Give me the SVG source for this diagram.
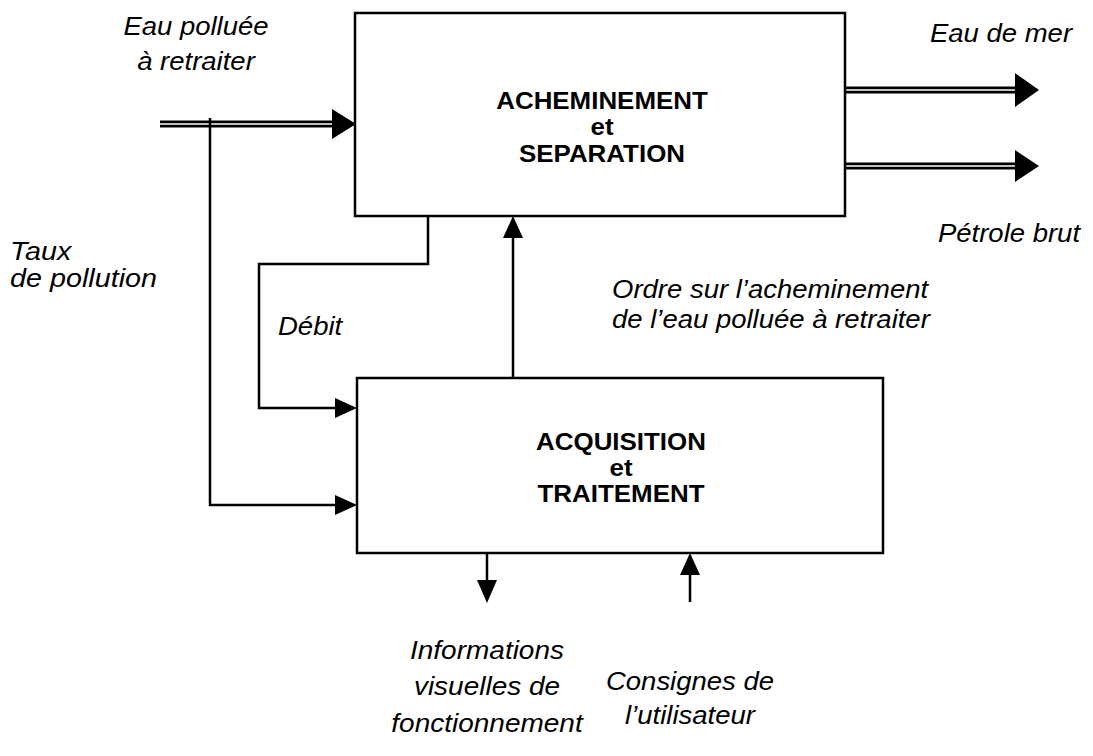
<svg xmlns="http://www.w3.org/2000/svg" width="1093" height="756" viewBox="0 0 1093 756">
<style>
.box{fill:#fff;stroke:#000;stroke-width:2.5}
.ln{fill:none;stroke:#000;stroke-width:2.5}
.dbl{fill:none;stroke:#000;stroke-width:7}
.dblw{fill:none;stroke:#fff;stroke-width:1.5}
.hd{fill:#000;stroke:none}
.it{font-family:"Liberation Sans",Arial,sans-serif;font-style:italic;font-size:25px;fill:#000}
.bd{font-family:"Liberation Sans",Arial,sans-serif;font-weight:bold;font-size:24px;fill:#000;text-anchor:middle}
.m{text-anchor:middle}
</style>
<rect width="1093" height="756" fill="#fff"/>
<g id="connectors">
  <path class="dbl" d="M160,124 H334"/>
  <path class="dblw" d="M160,124 H334"/>
  <polygon class="hd" points="332,109 356,124 332,139"/>
  <path class="dbl" d="M845,90 H1017"/>
  <path class="dblw" d="M846,90 H1017"/>
  <polygon class="hd" points="1015,73 1039,90 1015,107"/>
  <path class="dbl" d="M845,166 H1017"/>
  <path class="dblw" d="M846,166 H1017"/>
  <polygon class="hd" points="1015,150 1039,166 1015,182"/>
  <path class="ln" d="M210,118 V505 H337"/>
  <polygon class="hd" points="335,495 357,505 335,515"/>
  <path class="ln" d="M428,216 V264 H259 V408 H337"/>
  <polygon class="hd" points="335,398 357,408 335,418"/>
  <path class="ln" d="M513,378 V236"/>
  <polygon class="hd" points="503,238 513,216 523,238"/>
  <path class="ln" d="M487,553 V582"/>
  <polygon class="hd" points="477,580 487,603 497,580"/>
  <path class="ln" d="M690,602 V573"/>
  <polygon class="hd" points="680,575 690,553 700,575"/>
</g>
<g id="node-acheminement">
  <rect class="box" x="355" y="13" width="490" height="203"/>
  <g transform="translate(602,0) scale(1.08,1)">
    <text class="bd" x="0" y="109">ACHEMINEMENT</text>
    <text class="bd" x="0" y="135">et</text>
    <text class="bd" x="0" y="162">SEPARATION</text>
  </g>
</g>
<g id="node-acquisition">
  <rect class="box" x="357" y="378" width="526" height="175"/>
  <g transform="translate(621,0) scale(1.08,1)">
    <text class="bd" x="0" y="450">ACQUISITION</text>
    <text class="bd" x="0" y="476">et</text>
    <text class="bd" x="0" y="502">TRAITEMENT</text>
  </g>
</g>
<g id="labels">
  <g transform="translate(196,0) scale(1.1,1)">
    <text class="it m" x="0" y="35">Eau polluée</text>
    <text class="it m" x="0" y="70">à retraiter</text>
  </g>
  <g transform="translate(1001,0) scale(1.1,1)">
    <text class="it m" x="0" y="42">Eau de mer</text>
  </g>
  <g transform="translate(1009,0) scale(1.1,1)">
    <text class="it m" x="0" y="242">Pétrole brut</text>
  </g>
  <g transform="translate(10,0) scale(1.15,1)">
    <text class="it" x="0" y="260">Taux</text>
    <text class="it" x="0" y="287">de pollution</text>
  </g>
  <g transform="translate(278,0) scale(1.1,1)">
    <text class="it" x="0" y="335">Débit</text>
  </g>
  <g transform="translate(612,0) scale(1.1,1)">
    <text class="it" x="0" y="298">Ordre sur l’acheminement</text>
    <text class="it" x="0" y="328">de l’eau polluée à retraiter</text>
  </g>
  <g transform="translate(487,0) scale(1.12,1)">
    <text class="it m" x="0" y="659">Informations</text>
    <text class="it m" x="0" y="695">visuelles de</text>
    <text class="it m" x="0" y="732">fonctionnement</text>
  </g>
  <g transform="translate(690,0) scale(1.1,1)">
    <text class="it m" x="0" y="690">Consignes de</text>
    <text class="it m" x="0" y="724">l’utilisateur</text>
  </g>
</g>
</svg>
